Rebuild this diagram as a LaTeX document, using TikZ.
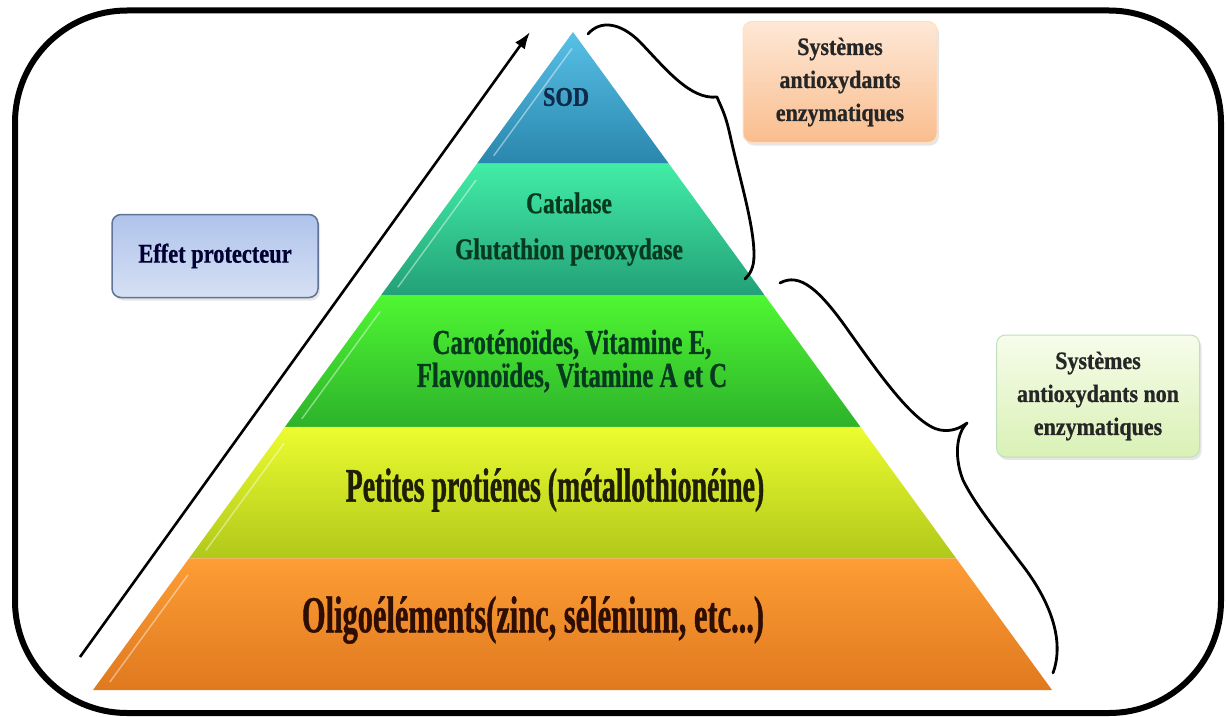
\documentclass[tikz,border=0pt]{standalone}
\usepackage{fontspec}
\setmainfont{Liberation Serif}[BoldFeatures={FakeBold=0.8}]
\usetikzlibrary{arrows.meta,calc,positioning,shadows}

% layer colours (top / bottom of each band)
\definecolor{sodtop}{HTML}{58C0E6}
\definecolor{sodbot}{HTML}{2A86AD}
\definecolor{cattop}{HTML}{42EDA6}
\definecolor{catbot}{HTML}{23A078}
\definecolor{cartop}{HTML}{4FF732}
\definecolor{carbot}{HTML}{2DB22B}
\definecolor{pettop}{HTML}{ECFC30}
\definecolor{petbot}{HTML}{B0C81A}
\definecolor{oligtop}{HTML}{FD9D35}
\definecolor{oligbot}{HTML}{E0791F}
\definecolor{sodtxt}{HTML}{0D2B48}
\definecolor{greentxt}{HTML}{063A1E}
\definecolor{darktxt}{HTML}{1E1E05}
\definecolor{browntxt}{HTML}{2E0E02}
\definecolor{boxtxt}{HTML}{262626}
\definecolor{effettop}{HTML}{AFC3EA}
\definecolor{effetbot}{HTML}{D6E0F4}
\definecolor{effetline}{HTML}{5F7497}
\definecolor{enztop}{HTML}{FEE8D6}
\definecolor{enzbot}{HTML}{F9BD8E}
\definecolor{nontop}{HTML}{F7FCEA}
\definecolor{nonbot}{HTML}{D9F1B6}

% bold, narrowed Times-like face: size, skip, stretch
\newcommand{\narrowfont}[3]{\bfseries\fontsize{#1}{#2}\selectfont\addfontfeatures{FakeStretch=#3}}

\tikzset{
  lbl/.style={align=center, inner sep=0pt},
  infobox/.style={rounded corners=9pt, align=center, inner sep=0pt, text=boxtxt,
    font=\narrowfont{25}{33}{0.88},
    drop shadow={opacity=0.2, shadow xshift=2pt, shadow yshift=-3pt}},
  curly/.style={line width=2.8pt, line cap=round, line join=round}
}

\begin{document}
\begin{tikzpicture}[x=1pt,y=-1pt]
  \useasboundingbox (0,0) rectangle (1226,717);

  % outer frame
  \draw[line width=6pt, rounded corners=112pt] (15,10.5) rectangle (1221,713);

  % pyramid corners
  \coordinate (apex) at (573,32);
  \coordinate (bl) at (93,690);
  \coordinate (br) at (1052,690);

  % five bands, top to bottom
  \foreach \k/\ct/\cb in {0/sodtop/sodbot, 1/cattop/catbot, 2/cartop/carbot, 3/pettop/petbot, 4/oligtop/oligbot} {
    \pgfmathsetmacro\ta{\k/5}
    \pgfmathsetmacro\tb{(\k+1)/5}
    \shade[top color=\ct, bottom color=\cb]
      ($(apex)!\ta!(bl)$) -- ($(apex)!\tb!(bl)$) -- ($(apex)!\tb!(br)$) -- ($(apex)!\ta!(br)$) -- cycle;
    % bevel highlight on the left side
    \pgfmathsetmacro\tc{\ta+0.025}
    \pgfmathsetmacro\td{\tb-0.012}
    \draw[white, opacity=0.45, line width=1.4pt]
      ($(apex)!\tc!(bl)+(11,0)$) -- ($(apex)!\td!(bl)+(11,0)$);
  }

  % band labels
  \node[lbl, text=sodtxt, font=\narrowfont{27}{30}{0.83}] (sod) at (566,97) {SOD};
  \node[lbl, text=greentxt, font=\narrowfont{30}{46}{0.78}] (cat) at (569,229)
    {Catalase\\Glutathion peroxydase};
  \node[lbl, text=greentxt, font=\narrowfont{35}{33}{0.71}] (carot) at (572,361)
    {Caroténoïdes, Vitamine E,\\Flavonoïdes, Vitamine A et C};
  \node[lbl, text=darktxt, font=\narrowfont{48}{50}{0.58}] (petites) at (555,490)
    {Petites protiénes (métallothionéine)};
  \node[lbl, text=browntxt, font=\narrowfont{52}{55}{0.585}] (oligo) at (533,620)
    {Oligoéléments(zinc, sélénium, etc...)};

  % side boxes
  \node[infobox, draw=effetline, line width=1.5pt, top color=effettop, bottom color=effetbot,
        minimum width=206pt, minimum height=83pt,
        font=\narrowfont{27}{30}{0.83}, text=black!80!blue] (effet) at (215,256)
    {Effet protecteur};
  \node[infobox, draw=orange!25, line width=1pt, top color=enztop, bottom color=enzbot,
        minimum width=194pt, minimum height=121pt] (enz) at (840,82)
    {Systèmes\\antioxydants\\enzymatiques};
  \node[infobox, draw=green!50!black!25, line width=1pt, top color=nontop, bottom color=nonbot,
        minimum width=203pt, minimum height=122pt] (nonenz) at (1098,396)
    {Systèmes\\antioxydants non\\enzymatiques};

  % protective effect arrow
  \coordinate (arrS) at (80,657);
  \coordinate (arrE) at (530,32);
  \draw[line width=2.6pt, -{Latex[length=17pt,width=12pt]}] (arrS) -- (arrE);

  % brace over the enzymatic bands
  \draw[curly] (588,34) .. controls (600,20) and (620,22) .. (640,42)
    .. controls (665,68) and (690,100) .. (717,97)
    .. controls (720,105) and (725,112) .. (730,135)
    .. controls (740,180) and (754,225) .. (754,255)
    .. controls (754,268) and (750,274) .. (745,279);

  % brace over the non enzymatic bands
  \draw[curly] (780,283) .. controls (800,272) and (820,290) .. (850,333)
    .. controls (880,375) and (915,425) .. (940,430)
    .. controls (952,432) and (960,428) .. (967,423)
    .. controls (955,435) and (955,460) .. (963,480)
    .. controls (975,505) and (1000,535) .. (1020,562)
    .. controls (1050,600) and (1065,640) .. (1053,673);
\end{tikzpicture}
\end{document}
